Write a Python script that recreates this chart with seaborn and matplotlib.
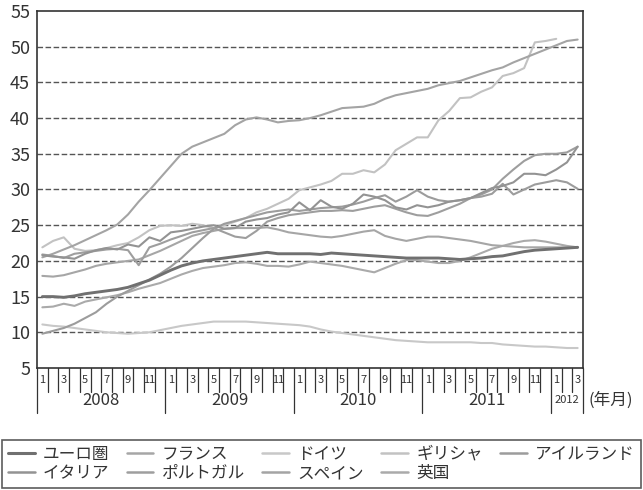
import matplotlib
matplotlib.use("Agg")
import matplotlib.pyplot as plt
from matplotlib.lines import Line2D
import pandas as pd
import seaborn as sns

# ---- categories -------------------------------------------------------
years = [2008, 2009, 2010, 2011, 2012]
months_in_year = [12, 12, 12, 12, 3]
year_labels = ["2008", "2009", "2010", "2011", "2012"]

# ---- youth unemployment rate (%) by month, Jan 2008 - Mar 2012 ----------
euro_area = [15.0, 15.0, 14.9, 15.1, 15.4, 15.6, 15.8, 16.0, 16.3, 16.8,
             17.3, 18.0, 18.7, 19.3, 19.7, 20.0, 20.2, 20.4, 20.6, 20.8,
             21.0, 21.2, 21.0, 21.0, 21.0, 21.0, 20.9, 21.1, 21.0, 20.9,
             20.8, 20.7, 20.6, 20.5, 20.4, 20.4, 20.4, 20.4, 20.3, 20.2,
             20.3, 20.4, 20.6, 20.7, 21.0, 21.3, 21.5, 21.6, 21.7, 21.8, 21.9]
france = [17.9, 17.8, 18.0, 18.4, 18.8, 19.3, 19.6, 19.8, 20.0, 20.2,
          20.8, 21.4, 22.1, 22.8, 23.5, 23.9, 24.2, 24.5, 24.6, 24.6,
          24.6, 24.7, 24.4, 24.0, 23.8, 23.6, 23.4, 23.3, 23.5, 23.8,
          24.1, 24.3, 23.5, 23.1, 22.8, 23.1, 23.4, 23.4, 23.2, 23.0,
          22.8, 22.5, 22.2, 22.1, 22.0, 21.9, 21.9, 21.9, 21.9, 21.9, 21.9]
germany = [11.1, 10.9, 10.8, 10.6, 10.4, 10.2, 10.0, 9.9, 9.8, 9.9,
           10.0, 10.3, 10.6, 10.9, 11.1, 11.3, 11.5, 11.5, 11.5, 11.5,
           11.4, 11.3, 11.2, 11.1, 11.0, 10.8, 10.4, 10.1, 9.9, 9.7,
           9.5, 9.3, 9.1, 8.9, 8.8, 8.7, 8.6, 8.6, 8.6, 8.6,
           8.6, 8.5, 8.5, 8.3, 8.2, 8.1, 8.0, 8.0, 7.9, 7.8, 7.8]
greece = [21.9, 22.8, 23.3, 21.7, 21.4, 21.5, 21.8, 22.2, 22.5, 23.3,
          24.3, 24.9, 25.0, 24.9, 25.2, 25.0, 24.6, 25.0, 25.5, 26.0,
          26.8, 27.3, 28.0, 28.7, 29.9, 30.3, 30.7, 31.2, 32.2, 32.2,
          32.7, 32.4, 33.5, 35.5, 36.4, 37.3, 37.3, 39.7, 41.0, 42.8,
          42.9, 43.7, 44.3, 45.9, 46.3, 47.0, 50.6, 50.8, 51.1]
ireland = [9.8, 10.2, 10.6, 11.2, 12.0, 12.8, 14.0, 15.0, 15.8, 16.6,
           17.4, 18.2, 19.2, 20.4, 21.8, 23.2, 24.5, 25.2, 25.6, 26.0,
           26.4, 26.8, 27.0, 27.2, 27.0, 27.2, 27.4, 27.5, 27.6, 27.9,
           28.3, 28.8, 29.2, 28.3, 29.0, 29.9, 29.0, 28.5, 28.3, 28.5,
           28.8, 29.0, 29.4, 30.8, 29.3, 30.0, 30.7, 31.0, 31.3, 31.0, 30.1]
italy = [20.8, 20.6, 20.5, 20.3, 21.0, 21.5, 21.8, 21.6, 22.3, 22.0,
         23.3, 22.8, 24.0, 24.2, 24.5, 24.8, 25.0, 24.5, 24.6, 25.5,
         25.8, 26.0, 26.5, 26.8, 28.2, 27.1, 28.5, 27.6, 27.3, 28.0,
         29.3, 29.0, 28.5, 27.5, 27.2, 27.8, 27.5, 27.8, 28.3, 28.5,
         28.8, 29.5, 30.2, 30.5, 31.0, 32.2, 32.2, 32.0, 32.8, 33.8, 36.0]
portugal = [20.9, 20.7, 20.4, 21.0, 21.2, 21.4, 21.6, 21.7, 21.5, 19.4,
            21.9, 22.4, 23.0, 23.5, 24.0, 24.3, 24.6, 24.0, 23.4, 23.2,
            24.2, 25.5, 26.0, 26.4, 26.6, 26.8, 27.0, 27.0, 27.1, 27.0,
            27.3, 27.6, 27.8, 27.3, 26.8, 26.4, 26.3, 26.8, 27.4, 28.0,
            28.8, 29.3, 30.0, 31.5, 32.8, 34.0, 34.8, 35.0, 35.0, 35.2, 36.0]
spain = [20.5, 21.0, 21.6, 22.2, 22.9, 23.6, 24.3, 25.1, 26.5, 28.3,
         29.9, 31.6, 33.3, 35.0, 36.0, 36.6, 37.2, 37.8, 39.0, 39.8,
         40.1, 39.8, 39.4, 39.6, 39.7, 40.0, 40.4, 40.9, 41.4, 41.5,
         41.6, 42.0, 42.7, 43.2, 43.5, 43.8, 44.1, 44.6, 44.9, 45.2,
         45.7, 46.2, 46.7, 47.1, 47.8, 48.4, 49.0, 49.6, 50.2, 50.8, 51.0]
uk = [13.5, 13.6, 14.0, 13.7, 14.3, 14.6, 14.9, 15.2, 15.6, 16.1,
      16.5, 16.9, 17.5, 18.1, 18.6, 19.0, 19.2, 19.4, 19.7, 19.8,
      19.6, 19.3, 19.3, 19.2, 19.5, 19.9, 19.7, 19.5, 19.3, 19.0,
      18.7, 18.4, 19.0, 19.6, 20.1, 20.1, 19.9, 19.7, 19.7, 20.0,
      20.5, 21.1, 21.7, 22.1, 22.5, 22.8, 22.9, 22.7, 22.4, 22.1, 21.9]

series = {
    "ユーロ圏": euro_area,
    "フランス": france,
    "ドイツ": germany,
    "ギリシャ": greece,
    "アイルランド": ireland,
    "イタリア": italy,
    "ポルトガル": portugal,
    "スペイン": spain,
    "英国": uk,
}
colors = {
    "ユーロ圏": "#707070",
    "フランス": "#a6a6a6",
    "ドイツ": "#c8c8c8",
    "ギリシャ": "#c2c2c2",
    "アイルランド": "#9c9c9c",
    "イタリア": "#939393",
    "ポルトガル": "#9e9e9e",
    "スペイン": "#a4a4a4",
    "英国": "#aaaaaa",
}
widths = {k: 1.5 for k in series}
widths["ユーロ圏"] = 2.1

# draw order: light lines first, euro area on top
draw_order = ["ドイツ", "ギリシャ", "英国", "フランス", "スペイン",
              "アイルランド", "ポルトガル", "イタリア", "ユーロ圏"]

rows = []
for name, vals in series.items():
    for i, v in enumerate(vals):
        rows.append({"国": name, "月": i, "失業率": v})
df = pd.DataFrame(rows)

sns.set_style("white")
plt.rcParams["font.family"] = ["Noto Sans CJK JP", "DejaVu Sans"]

W, H = 643, 490
fig = plt.figure(figsize=(W / 100, H / 100), dpi=100)
ax_left, ax_right, ax_top, ax_bottom = 37, 583, 11, 368
ax = fig.add_axes([ax_left / W, (H - ax_bottom) / H,
                   (ax_right - ax_left) / W, (ax_bottom - ax_top) / H])

for name in draw_order:
    sub = df[df["国"] == name]
    sns.lineplot(data=sub, x="月", y="失業率", ax=ax, color=colors[name],
                 linewidth=widths[name], estimator=None, legend=False,
                 solid_joinstyle="round")

n_months = sum(months_in_year)
ax.set_xlim(-0.5, n_months - 0.5)
ax.set_ylim(5, 55)
ax.set_yticks(range(5, 60, 5))
ax.set_yticklabels([str(v) for v in range(5, 60, 5)])
ax.tick_params(axis="y", length=0, pad=5, labelsize=13, labelcolor="#333333")
for yv in range(10, 55, 5):
    ax.axhline(yv, color="#555555", lw=1.0, dashes=(4.0, 1.8), zorder=0)
ax.set_xlabel("")
ax.set_ylabel("")
for sp in ax.spines.values():
    sp.set_color("#333333")
    sp.set_linewidth(1.2)

# month / year category axis
ax.set_xticks([])
trans = ax.get_xaxis_transform()
px = 72 / 100  # points per pixel
axh = ax_bottom - ax_top
pos = -0.5
boundaries_year = [pos]
for yr, nm in zip(years, months_in_year):
    for m in range(1, nm + 1):
        if m > 1:
            ax.plot([pos, pos], [0, -24 / axh], transform=trans,
                    color="#333333", lw=0.9, clip_on=False)
        if m % 2 == 1:
            ax.annotate(str(m), xy=(pos + 0.5, 0), xycoords=trans,
                        xytext=(0, -12 * px), textcoords="offset points",
                        ha="center", va="center", fontsize=8, color="#333333")
        pos += 1
    boundaries_year.append(pos)

for b in boundaries_year:
    ax.plot([b, b], [0, -45 / axh], transform=trans,
            color="#333333", lw=0.9, clip_on=False)

for lbl, a, b in zip(year_labels, boundaries_year[:-1], boundaries_year[1:]):
    fs = 12 if b - a > 3 else 8
    ax.annotate(lbl, xy=((a + b) / 2, 0), xycoords=trans,
                xytext=(0, -32 * px), textcoords="offset points",
                ha="center", va="center", fontsize=fs, color="#333333")

fig.text(588 / W, (H - 400) / H, "(年月)", ha="left", va="center",
         fontsize=12, color="#333333")

# legend
legend_order = ["ユーロ圏", "イタリア", "フランス", "ポルトガル", "ドイツ",
                "スペイン", "ギリシャ", "英国", "アイルランド"]
handles = [Line2D([0], [0], color=colors[n], lw=2.2 if n == "ユーロ圏" else 1.8)
           for n in legend_order]
leg = fig.legend(handles, legend_order, loc="lower left", ncol=5,
                 bbox_to_anchor=(2 / W, 2 / H, 639 / W, 58 / H), mode="expand",
                 fontsize=12, frameon=True, fancybox=False,
                 handlelength=1.6, handletextpad=0.5, columnspacing=0.8,
                 labelspacing=0.15, borderaxespad=0, borderpad=0.35)
leg.get_frame().set_edgecolor("#333333")
leg.get_frame().set_linewidth(1.2)
for t in leg.get_texts():
    t.set_color("#333333")

fig.savefig("out.png", dpi=100)
